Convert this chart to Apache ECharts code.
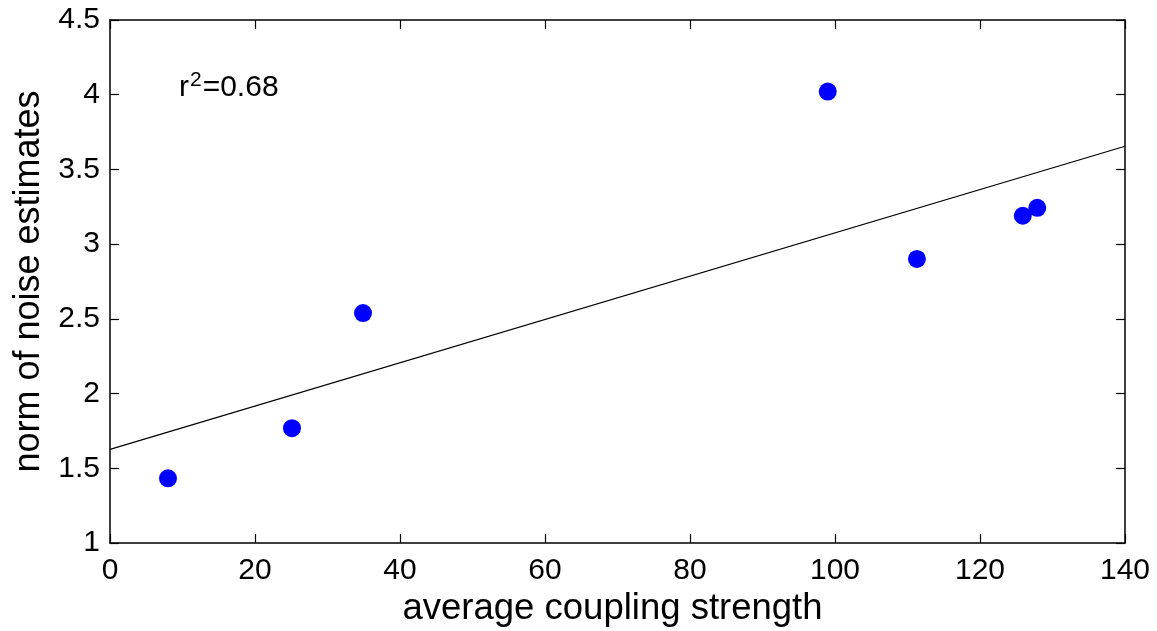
<!DOCTYPE html>
<html>
<head>
<meta charset="utf-8">
<script src="https://cdn.jsdelivr.net/npm/echarts@6/dist/echarts.min.js"></script>
<style>html,body{margin:0;padding:0;background:#fff}#c{width:1157px;height:631px}</style>
</head>
<body>
<div id="c"></div>
<script>
// Data
const couplingStrength = [8, 25.1, 34.9, 99.0, 111.3, 125.9, 127.9];
const noiseNorm = [1.433, 1.768, 2.539, 4.021, 2.901, 3.19, 3.243];
const fitX = [0, 140];
const fitY = [1.627, 3.655];
const xTitle = 'average coupling strength';
const yTitle = 'norm of noise estimates';
const r2Text = '0.68';

const FONT = '"Liberation Sans", Arial, Helvetica, sans-serif';
const chart = echarts.init(document.getElementById('c'), null, {renderer: 'canvas'});

const axisLineStyle = {color: '#000', width: 1.5};
const tickStyle = {show: true, inside: true, length: 9, lineStyle: {color: '#000', width: 1.2}};

const option = {
  animation: false,
  backgroundColor: '#fff',
  grid: {left: 110, right: 32, top: 20, bottom: 88, containLabel: false, outerBoundsMode: 'none'},
  xAxis: [
    {
      type: 'value', min: 0, max: 140, interval: 20, position: 'bottom',
      name: xTitle, nameLocation: 'middle', nameGap: 47,
      nameTextStyle: {fontFamily: FONT, fontSize: 36.5, color: '#000', padding: [0, 10, 0, 0]},
      axisLine: {show: true, onZero: false, lineStyle: axisLineStyle},
      axisTick: tickStyle,
      axisLabel: {fontFamily: FONT, fontSize: 30, color: '#000', margin: 13},
      splitLine: {show: false}
    },
    {
      type: 'value', min: 0, max: 140, interval: 20, position: 'top',
      axisLine: {show: true, onZero: false, lineStyle: axisLineStyle},
      axisTick: tickStyle,
      axisLabel: {show: false},
      splitLine: {show: false}
    }
  ],
  yAxis: [
    {
      type: 'value', min: 1, max: 4.5, interval: 0.5, position: 'left',
      name: yTitle, nameLocation: 'middle', nameGap: 53, nameRotate: 90,
      nameTextStyle: {fontFamily: FONT, fontSize: 36, color: '#000'},
      axisLine: {show: true, onZero: false, lineStyle: axisLineStyle},
      axisTick: tickStyle,
      axisLabel: {fontFamily: FONT, fontSize: 30, color: '#000', margin: 10},
      splitLine: {show: false}
    },
    {
      type: 'value', min: 1, max: 4.5, interval: 0.5, position: 'right',
      axisLine: {show: true, onZero: false, lineStyle: axisLineStyle},
      axisTick: tickStyle,
      axisLabel: {show: false},
      splitLine: {show: false}
    }
  ],
  series: [
    {
      type: 'line',
      data: fitX.map((x, i) => [x, fitY[i]]),
      symbol: 'none',
      lineStyle: {color: '#000', width: 1.2},
      z: 2
    },
    {
      type: 'scatter',
      data: couplingStrength.map((x, i) => [x, noiseNorm[i]]),
      symbol: 'circle',
      symbolSize: 18,
      itemStyle: {color: '#0000ff', opacity: 1},
      z: 3
    }
  ],
  graphic: [
    {
      type: 'text',
      left: 179, top: 70,
      style: {
        text: 'r{sup|2}=' + r2Text,
        fontFamily: FONT, fontSize: 30, fill: '#000',
        rich: {
          sup: {fontFamily: FONT, fontSize: 21, fill: '#000', padding: [0, 1, 14, 1]}
        }
      }
    }
  ]
};
chart.setOption(option);
</script>
</body>
</html>
